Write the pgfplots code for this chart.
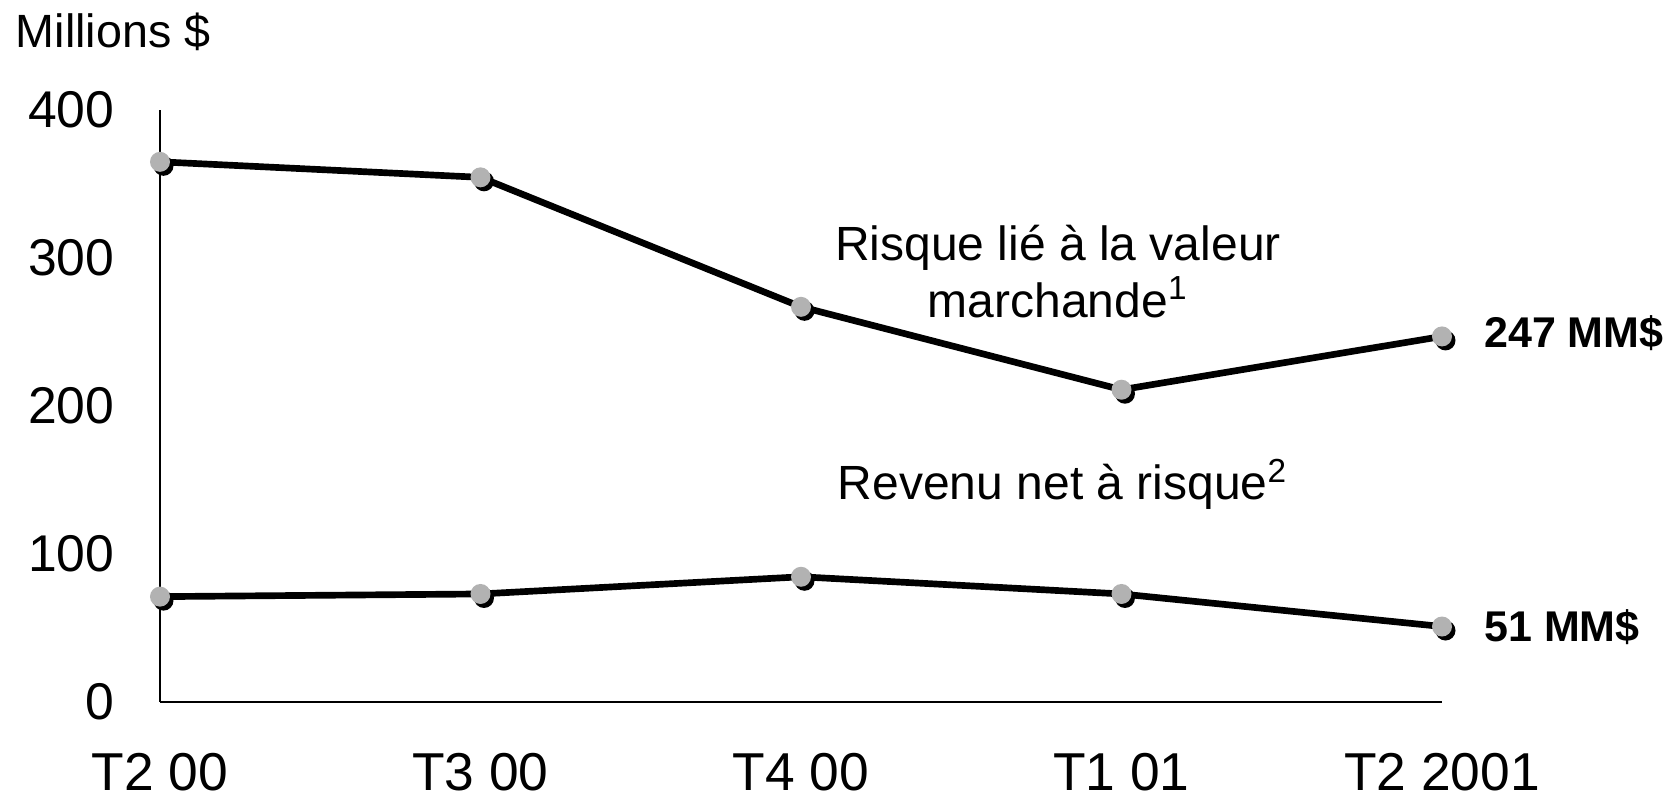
\documentclass[border=0pt]{standalone}
\usepackage{pgfplots}
\pgfplotsset{compat=1.18}
\usepackage{fontspec}
\setmainfont{Liberation Sans}
\definecolor{markgray}{RGB}{178,178,178}
\pgfdeclareplotmark{shadowball}{%
  \pgfpathcircle{\pgfqpoint{0.35\pgfplotmarksize}{-0.4\pgfplotmarksize}}{\pgfplotmarksize}%
  \pgfsetfillcolor{black}\pgfusepathqfill
  \pgfpathcircle{\pgfpointorigin}{\pgfplotmarksize}%
  \pgfsetfillcolor{markgray}\pgfusepathqfill}
\begin{document}
\begin{tikzpicture}
\useasboundingbox (-48pt,-29.7pt) rectangle (454.5pt,210.6pt);
\begin{axis}[
  at={(0pt,0pt)}, anchor=south west,
  scale only axis, width=384.6pt, height=177.6pt,
  xmin=0, xmax=4, ymin=0, ymax=400,
  axis x line=bottom, axis y line=left,
  axis line style={-, line width=0.5pt},
  major tick length=0pt,
  xtick={0,1,2,3,4},
  xticklabels={T2 00, T3 00, T4 00, T1 01, T2 2001},
  ytick={0,100,200,300,400},
  xticklabel style={font=\fontsize{16}{19}\selectfont, anchor=north, inner sep=0pt, yshift=-15.1pt},
  yticklabel style={font=\fontsize{15.5}{18}\selectfont, anchor=east, inner sep=0pt, xshift=-13.5pt},
  /pgf/number format/assume math mode=true,
  clip=false,
]
\addplot[line width=2pt, mark=shadowball, mark size=3pt] coordinates {
  (0,365) (1,354.5) (2,267) (3,211) (4,247)};
\addplot[line width=2pt, mark=shadowball, mark size=3pt] coordinates {
  (0,71.2) (1,73) (2,84.6) (3,73) (4,51)};
\node[anchor=base west, inner sep=0pt, font=\fontsize{14}{17}\selectfont] at (axis cs:-0.452,441.9) {Millions \$};
\node[anchor=base, inner sep=0pt, font=\fontsize{14.4}{17}\selectfont] at (axis cs:2.802,298.6) {Risque lié à la valeur};
\node[anchor=base, inner sep=0pt, font=\fontsize{14.4}{17}\selectfont] at (axis cs:2.802,260.1) {marchande\textsuperscript{1}};
\node[anchor=base, inner sep=0pt, font=\fontsize{14.4}{17}\selectfont] at (axis cs:2.817,136.5) {Revenu net à risque\textsuperscript{2}};
\node[anchor=base west, inner sep=0pt, font=\fontsize{12.9}{15}\selectfont\bfseries] at (axis cs:4.130,239.2) {247 MM\$};
\node[anchor=base west, inner sep=0pt, font=\fontsize{12.9}{15}\selectfont\bfseries] at (axis cs:4.130,41.2) {51 MM\$};
\end{axis}
\end{tikzpicture}
\end{document}
